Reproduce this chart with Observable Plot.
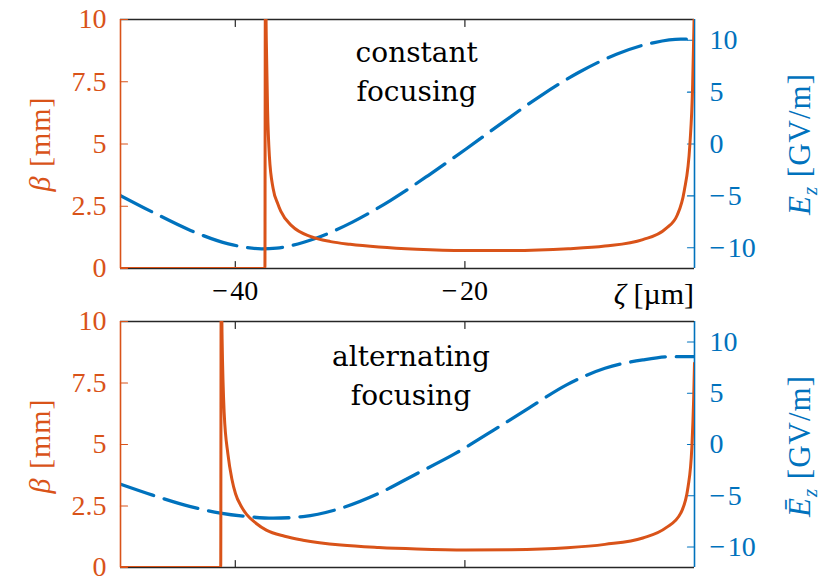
<!DOCTYPE html>
<html>
<head>
<meta charset="utf-8">
<script src="https://cdn.jsdelivr.net/npm/d3@7"></script>
<script src="https://cdn.jsdelivr.net/npm/@observablehq/plot@0.6"></script>
<style>
  html, body { margin: 0; padding: 0; background: #fff; }
  #chart { width: 830px; }
  .panel { position: relative; width: 830px; }
  .panel svg { position: absolute; left: 0; top: 0; }
  .panel svg text { font-family: "Liberation Serif", serif; }
  .panel svg text.note { font-family: "DejaVu Serif", serif; }
  .panel svg text.alabel { letter-spacing: 1px; }
</style>
</head>
<body>
<div id="chart"></div>
<script>
// ---- data ----
const zetaDomain = [-50, 0];
const betaDomain = [0, 10];
const fieldDomain = [-12, 12];
const zetaTicks = [-40, -20];
const betaTicks = [0, 2.5, 5, 7.5, 10];
const fieldTicks = [-10, -5, 0, 5, 10];

// constant focusing: beta [mm]
const betaConstZeta = [-50, -37.42, -37.38, -37.30, -37.19, -37.03, -36.70, -36.30, -36.04, -35.05, -33.41, -31.7, -30.0, -27.5, -24.2, -20.0, -16.0, -11.0, -7.8, -4.5, -2.5, -1.5, -0.9, -0.4, -0.16, -0.07, -0.02];
const betaConstVal  = [0, 0, 12, 9.2, 6.4, 4.5, 3.2, 2.6, 2.3, 1.7, 1.28, 1.08, 0.97, 0.86, 0.77, 0.72, 0.72, 0.79, 0.90, 1.16, 1.6, 2.15, 3.1, 5.0, 7.4, 9.3, 10.4];
// constant focusing: E_z [GV/m]
const fieldConstZeta = [-50, -47.2, -43.9, -40.6, -37.7, -36.4, -33.1, -29.8, -26.5, -23.2, -19.9, -16.7, -13.4, -10.1, -6.8, -3.5, -1.2, 0];
const fieldConstVal  = [-4.97, -6.57, -8.33, -9.62, -10.1, -10.03, -9.13, -7.53, -5.45, -3.04, -0.48, 2.08, 4.65, 6.89, 8.65, 9.78, 10.1, 10.1];

// alternating focusing: beta [mm]
const betaAltZeta = [-50, -41.27, -41.23, -41.15, -40.97, -40.64, -40.3, -39.98, -39.5, -39.0, -38.2, -37.3, -35.7, -34.1, -30.8, -27.5, -24.2, -19.9, -16.0, -11.1, -7.8, -4.5, -2.5, -1.2, -0.56, -0.23, -0.07, 0];
const betaAltVal  = [0, 0, 12, 9.3, 6.3, 4.6, 3.6, 3.0, 2.5, 2.15, 1.8, 1.52, 1.27, 1.11, 0.91, 0.81, 0.75, 0.71, 0.72, 0.80, 0.94, 1.20, 1.61, 2.21, 3.28, 4.89, 6.89, 8.3];
// alternating focusing: mean E_z [GV/m]
const fieldAltZeta = [-50, -47.2, -43.9, -41.3, -39.0, -36.7, -34.1, -30.8, -27.5, -24.2, -20.9, -17.6, -14.4, -11.1, -7.8, -4.5, -1.9, 0];
const fieldAltVal  = [-3.87, -4.94, -6.06, -6.70, -7.03, -7.19, -7.03, -6.22, -4.77, -2.85, -0.92, 1.33, 3.58, 5.84, 7.44, 8.25, 8.57, 8.57];

const notes = ["constant\nfocusing", "alternating\nfocusing"];

// ---- styling ----
const ORANGE = "#D95319", BLUE = "#0072BD", INK = "#262626";
const W = 830;
const TICK_FS = 28;
const tickShape = {draw(ctx, l) { ctx.moveTo(0, 0); ctx.lineTo(0, -l); }};
const fmt = d => d < 0 ? "\u2212\u200A" + Math.abs(d) : String(d);
const zip = (xs, ys) => xs.map((x, i) => ({x, y: ys[i]}));

function panel({betaData, fieldData, note, noteX, noteY, height, mt, mb, showX, fieldBar, labelCy}) {
  const div = document.createElement("div");
  div.className = "panel";
  div.style.height = height + "px";
  const common = {
    width: W, height, marginTop: mt, marginBottom: mb, marginLeft: 120, marginRight: 136,
    style: {background: "transparent", fontSize: TICK_FS + "px", overflow: "visible"}
  };

  const B = Plot.plot({
    ...common,
    x: {domain: zetaDomain, axis: null},
    y: {domain: fieldDomain},
    marks: [
      Plot.ruleX([zetaDomain[1]], {stroke: BLUE, strokeWidth: 1.6}),
      Plot.vector(fieldTicks, {x: zetaDomain[1], y: d => d, rotate: 270, length: 7, anchor: "start", shape: tickShape, stroke: BLUE, strokeWidth: 1.2}),
      Plot.axisY(fieldTicks, {anchor: "right", label: null, tickSize: 0, tickPadding: 15, tickFormat: fmt, fill: BLUE, fontSize: TICK_FS}),
      Plot.line(fieldData, {x: "x", y: "y", curve: "monotone-x", stroke: BLUE, strokeWidth: 3.3, strokeDasharray: "35,11", clip: true})
    ]
  });

  const marksA = [
    Plot.ruleY(betaDomain, {stroke: INK, strokeWidth: 1.6}),
    Plot.ruleX([zetaDomain[0]], {stroke: ORANGE, strokeWidth: 1.6}),
    Plot.vector(betaTicks, {x: zetaDomain[0], y: d => d, rotate: 90, length: 7, anchor: "start", shape: tickShape, stroke: ORANGE, strokeWidth: 1.2}),
    Plot.vector(zetaTicks, {x: d => d, y: betaDomain[0], rotate: 0, length: 7, anchor: "start", shape: tickShape, stroke: INK, strokeWidth: 1.2}),
    Plot.vector(zetaTicks, {x: d => d, y: betaDomain[1], rotate: 180, length: 7, anchor: "start", shape: tickShape, stroke: INK, strokeWidth: 1.2}),
    Plot.axisY(betaTicks, {anchor: "left", label: null, tickSize: 0, tickPadding: 14, tickFormat: fmt, fill: ORANGE, fontSize: TICK_FS}),
    Plot.line(betaData, {x: "x", y: "y", curve: "monotone-x", stroke: ORANGE, strokeWidth: 3, clip: true}),
    Plot.text([note], {x: noteX, y: noteY, text: d => d, fontSize: 28, lineHeight: 1.38, lineAnchor: "middle", fill: "#000"})
  ];
  if (showX) marksA.push(Plot.axisX(zetaTicks, {anchor: "bottom", label: null, tickSize: 0, tickPadding: 12, tickFormat: fmt, fill: "#000", fontSize: TICK_FS}));
  const A = Plot.plot({
    ...common,
    x: {domain: zetaDomain, ...(showX ? {} : {axis: null})},
    y: {domain: betaDomain},
    marks: marksA
  });
  d3.select(A).selectAll("g[aria-label=text] text").classed("note", true);

  const a = d3.select(A);
  a.append("text")
    .attr("class", "alabel")
    .attr("transform", `translate(50,${labelCy}) rotate(-90)`)
    .attr("text-anchor", "middle").attr("fill", ORANGE)
    .style("font-size", "30px")
    .call(t => {
      t.append("tspan").attr("font-style", "italic").text("β");
      t.append("tspan").text(" [mm]");
    });
  const b = d3.select(B);
  b.append("text")
    .attr("class", "alabel")
    .attr("transform", `translate(810,${labelCy}) rotate(-90)`)
    .attr("text-anchor", "middle").attr("fill", BLUE)
    .style("font-size", "31px")
    .call(t => {
      t.append("tspan").attr("font-style", "italic").text(fieldBar ? "Ē" : "E");
      t.append("tspan").attr("font-style", "italic").attr("dy", 7).style("font-size", "21px").text("z");
      t.append("tspan").attr("dy", -7).text(" [GV/m]");
    });
  if (showX) {
    a.append("text")
      .attr("x", 694).attr("y", 304)
      .attr("text-anchor", "end").attr("fill", "#000")
      .style("font-size", "30px")
      .call(t => {
        t.append("tspan").attr("font-style", "italic").text("ζ");
        t.append("tspan").text(" [µm]");
      });
  }

  div.appendChild(B);
  div.appendChild(A);
  return div;
}

const chart = document.getElementById("chart");
chart.appendChild(panel({
  betaData: zip(betaConstZeta, betaConstVal),
  fieldData: zip(fieldConstZeta, fieldConstVal),
  note: notes[0], noteX: -24.2, noteY: 8.0,
  height: 308, mt: 19, mb: 40, showX: true, fieldBar: false, labelCy: 144
}));
chart.appendChild(panel({
  betaData: zip(betaAltZeta, betaAltVal),
  fieldData: zip(fieldAltZeta, fieldAltVal),
  note: notes[1], noteX: -24.7, noteY: 7.9,
  height: 274, mt: 13, mb: 15, showX: false, fieldBar: true, labelCy: 138
}));
</script>
</body>
</html>
